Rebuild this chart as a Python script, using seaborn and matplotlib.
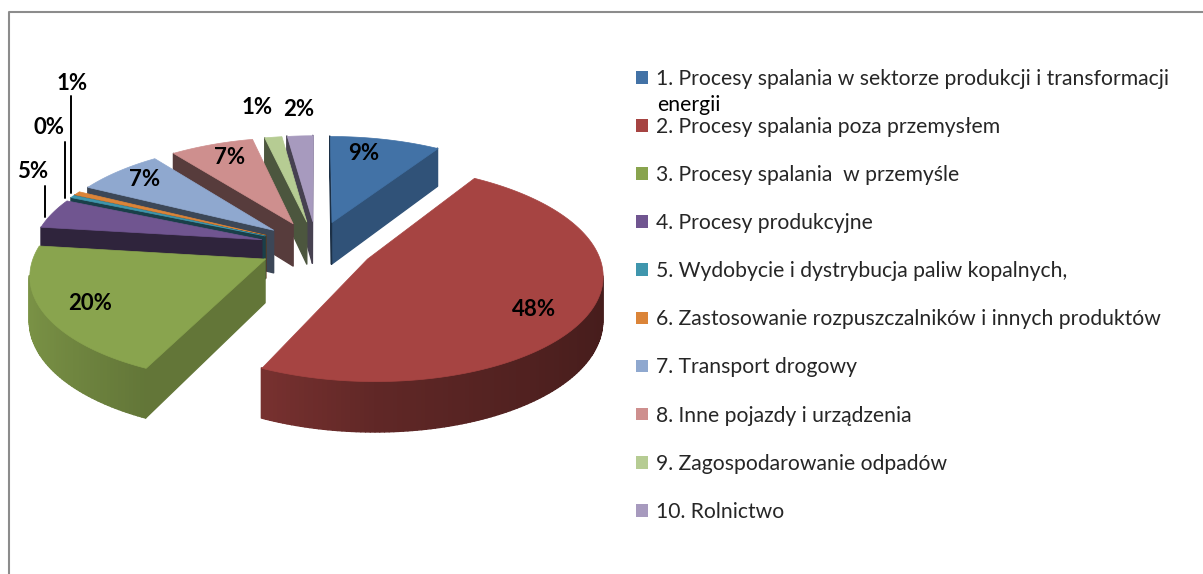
import numpy as np
import matplotlib
matplotlib.use("Agg")
import matplotlib.pyplot as plt
from matplotlib.collections import PolyCollection
from matplotlib.lines import Line2D
from matplotlib.patches import Patch
import seaborn as sns

# dane
categories = [
    "1. Procesy spalania w sektorze produkcji i transformacji",
    "2. Procesy spalania poza przemysłem",
    "3. Procesy spalania  w przemyśle",
    "4. Procesy produkcyjne",
    "5. Wydobycie i dystrybucja paliw kopalnych,",
    "6. Zastosowanie rozpuszczalników i innych produktów",
    "7. Transport drogowy",
    "8. Inne pojazdy i urządzenia",
    "9. Zagospodarowanie odpadów",
    "10. Rolnictwo",
]
values = [9.0, 48.0, 20.0, 4.6, 0.4, 0.6, 7.1, 6.8, 1.4, 2.1]
colors = ["#4272A6", "#A64442", "#89A44E", "#705590", "#3F96AD",
          "#DB8438", "#8FA8CF", "#CE8F8E", "#B6CC93", "#A79ABE"]
label_pos = [(364, 154), (534, 309), (90, 304), (33, 171), (49, 128),
             (72, 83), (145, 180), (230, 157), (257, 108), (299, 110)]
leaders = [(3, 45, 186, 217), (4, 65, 142, 198), (5, 71, 96, 193)]

# parametry rzutu perspektywicznego
CX, CY = 316, 246
A, B, K, DEPTH = 229, 103, 0.13, 43.5
EXPLODE = 0.25

sns.set_theme(style="white")
plt.rcParams["font.family"] = ["Lato", "DejaVu Sans"]
palette = sns.color_palette(colors)


def project(x, y):
    s = 1 / (1 + K * y)
    return CX + A * x * s, CY - B * y * s, DEPTH * s


fig = plt.figure(figsize=(12.03, 5.74), dpi=100)
ax = fig.add_axes([0, 0, 1, 1])
wedges, _ = ax.pie(values, explode=[EXPLODE] * len(values), startangle=90,
                   counterclock=False, colors=palette)

geom = [(w.theta1, w.theta2, w.center) for w in wedges]
for w in wedges:
    w.remove()
ax.set_aspect("auto")
ax.set_xlim(0, 1203)
ax.set_ylim(574, 0)
ax.axis("off")

# od tylu do przodu
order = sorted(range(len(values)), key=lambda i: -geom[i][2][1])
for rank, i in enumerate(order):
    t1, t2, (ox, oy) = geom[i]
    angles = np.radians(np.linspace(t1, t2, max(4, int(t2 - t1))))
    px = np.concatenate([[ox], ox + np.cos(angles), [ox]])
    py = np.concatenate([[oy], oy + np.sin(angles), [oy]])
    sx, sy, d = project(px, py)

    quads, shades = [], []
    n = len(sx) - 1
    for j in range(n):
        if sx[j + 1] <= sx[j]:
            continue
        quads.append([(sx[j], sy[j]), (sx[j + 1], sy[j + 1]),
                      (sx[j + 1], sy[j + 1] + d[j + 1]), (sx[j], sy[j] + d[j])])
        if j == 0 or j == n - 1:
            normal = t1 - 90 if j == 0 else t2 + 90
            shades.append(0.72 if np.cos(np.radians(normal)) > 0 else 0.42)
        else:
            c = np.cos(angles[j - 1])
            shades.append(np.interp(c, [-1, -0.43, 0, 1], [0.9, 0.72, 0.58, 0.42]))
    base = np.array(palette[i])
    wall = [tuple(base * s) for s in shades]
    ax.add_collection(PolyCollection(quads, facecolors=wall, edgecolors=wall,
                                     linewidths=1.0, zorder=2 + rank * 0.1))
    ax.add_collection(PolyCollection([np.column_stack([sx, sy])], facecolors=[palette[i]],
                                     edgecolors=[palette[i]], linewidths=0.5,
                                     zorder=2.05 + rank * 0.1))

for i, v in enumerate(values):
    x, y = label_pos[i]
    ax.text(x, y, f"{v:.0f}%", ha="center", va="center", fontsize=16,
            fontweight="bold", color="black", zorder=5)

for i, x, y0, y1 in leaders:
    ax.plot([x, x], [y0, y1], color="black", lw=1.4, zorder=4)

handles = [Patch(facecolor=c, edgecolor="none") for c in palette]
ax.legend(handles, categories, loc="upper left", bbox_to_anchor=(636 / 1203, 1 - 69 / 574),
          frameon=False, fontsize=15.2, handlelength=0.55, handleheight=0.55,
          handletextpad=0.41, labelspacing=1.33, borderpad=0, borderaxespad=0)
ax.text(657, 105, "energii", fontsize=15.2, va="center", ha="left", color="black")

# ramka ucieta na krawedziach
fig.add_artist(Line2D([8.5 / 1203, 8.5 / 1203, 1], [0, 1 - 12 / 574, 1 - 12 / 574],
                      color="#8c8c8c", lw=1.5))

fig.savefig("out.png", dpi=100)
